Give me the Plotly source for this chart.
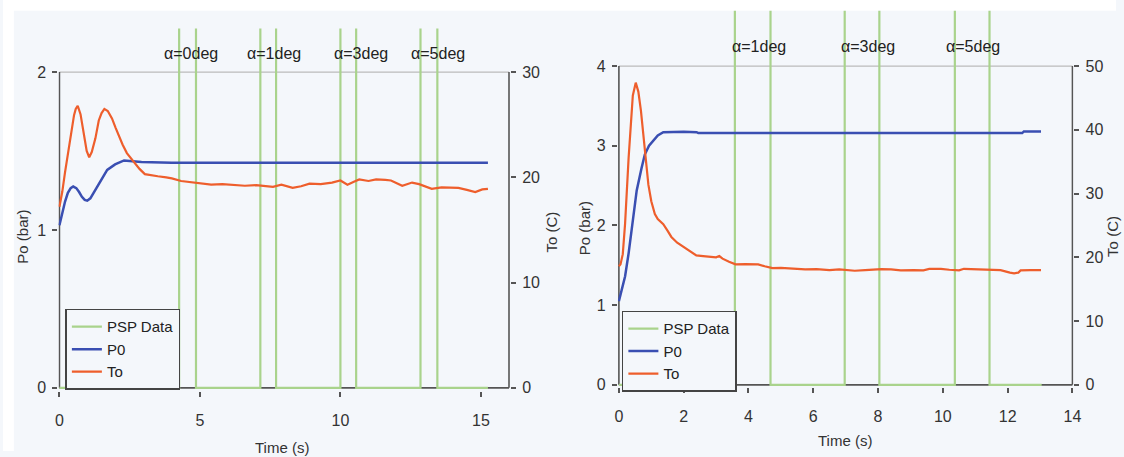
import plotly.graph_objects as go

W, H = 1124, 457
BG = "#F4F7FB"
GREEN = "#A9D38C"
BLUE = "#3A4FB2"
ORANGE = "#EE5E2C"
AXC = "#555555"
FONT = "Liberation Sans, Arial, sans-serif"

# ---------------- Left chart (run A) ----------------
psp_a_t = [0, 4.26, 4.86, 7.15, 7.71, 10.0, 10.56, 12.85, 13.45, 15.25]
psp_a_v = [0, 3, 0, 3, 0, 3, 0, 3, 0, 0]

p0_a_t = [0.0, 0.1, 0.2, 0.3, 0.4, 0.49, 0.6, 0.7, 0.8, 0.9, 0.99, 1.1, 1.2, 1.35, 1.51,
          1.7, 1.98, 2.15, 2.3, 2.6, 2.92, 4.0, 6.0, 8.0, 10.0, 12.0, 14.0, 15.25]
p0_a_v = [1.03, 1.11, 1.18, 1.235, 1.265, 1.275, 1.265, 1.24, 1.21, 1.19, 1.185, 1.20, 1.23, 1.28, 1.33,
          1.38, 1.415, 1.43, 1.44, 1.435, 1.43, 1.425, 1.425, 1.425, 1.425, 1.425, 1.425, 1.425]

to_a_t = [0.0, 0.1, 0.2, 0.34, 0.45, 0.52, 0.58, 0.65, 0.75, 0.87, 0.97, 1.06, 1.15, 1.28,
          1.4, 1.5, 1.6, 1.72, 1.87, 2.0, 2.1, 2.25, 2.4, 2.63, 2.85, 3.04, 3.3, 3.5, 3.8,
          4.0, 4.33, 4.6, 5.03, 5.4, 5.8, 6.2, 6.6, 7.0, 7.3, 7.6, 7.9, 8.3, 8.6, 8.9,
          9.3, 9.7, 10.0, 10.25, 10.5, 10.67, 11.0, 11.27, 11.6, 11.8, 12.2, 12.55, 12.8,
          13.25, 13.6, 14.0, 14.2, 14.5, 14.8, 15.05, 15.25]
to_a_v = [17.2, 18.6, 20.5, 22.8, 25.0, 25.9, 26.5, 26.8, 26.0, 24.3, 22.5, 21.9, 22.4, 23.7,
          25.4, 26.1, 26.5, 26.3, 25.6, 24.7, 24.0, 23.1, 22.3, 21.5, 20.8, 20.3, 20.15, 20.1, 20.0,
          19.9, 19.65, 19.55, 19.4, 19.3, 19.35, 19.3, 19.2, 19.25, 19.2, 19.1, 19.3, 19.0, 19.15, 19.4,
          19.35, 19.5, 19.7, 19.3, 19.6, 19.8, 19.65, 19.8, 19.75, 19.7, 19.2, 19.5, 19.35,
          18.9, 19.05, 19.0, 19.0, 18.8, 18.6, 18.85, 18.9]

alpha_a_text = ["α=0deg", "α=1deg", "α=3deg", "α=5deg"]
alpha_a_x = [4.69, 7.65, 10.73, 13.49]

# ---------------- Right chart (run B) ----------------
psp_b_t = [0, 3.58, 4.68, 6.97, 8.04, 10.37, 11.44, 13.05]
psp_b_v = [0, 6, 0, 6, 0, 6, 0, 0]

p0_b_t = [0.0, 0.1, 0.19, 0.3, 0.4, 0.55, 0.7, 0.8, 0.93, 1.06, 1.2, 1.37, 1.6, 2.0, 2.4,
          2.45, 4.0, 6.0, 8.0, 10.0, 12.45, 12.5, 13.03]
p0_b_v = [1.05, 1.2, 1.36, 1.65, 1.97, 2.44, 2.72, 2.89, 3.0, 3.07, 3.13, 3.17, 3.175, 3.175, 3.17,
          3.16, 3.16, 3.16, 3.16, 3.16, 3.16, 3.18, 3.18]

to_b_t = [0.0, 0.05, 0.12, 0.19, 0.3, 0.43, 0.52, 0.6, 0.68, 0.76, 0.84, 0.91, 1.0, 1.11,
          1.2, 1.37, 1.5, 1.62, 1.8, 1.98, 2.2, 2.39, 2.6, 2.8, 3.0, 3.1, 3.2, 3.4, 3.6,
          3.9, 4.3, 4.5, 4.74, 5.0, 5.4, 5.75, 6.1, 6.5, 6.8, 7.1, 7.28, 7.6, 7.89, 8.1,
          8.4, 8.7, 9.1, 9.4, 9.58, 9.94, 10.2, 10.5, 10.65, 10.86, 11.1, 11.37, 11.78,
          12.07, 12.2, 12.33, 12.4, 12.7, 13.03]
to_b_v = [18.6, 18.9, 20.5, 25.2, 35.6, 45.4, 47.4, 46.0, 43.0, 39.2, 34.8, 31.4, 28.8, 26.8,
          26.0, 25.2, 24.2, 23.2, 22.3, 21.7, 20.9, 20.3, 20.2, 20.05, 20.0, 20.2, 19.8, 19.3, 18.9,
          18.95, 18.9, 18.6, 18.3, 18.35, 18.2, 18.1, 18.15, 18.0, 18.1, 18.0, 17.9, 18.0, 18.1, 18.15,
          18.1, 17.95, 18.0, 17.95, 18.2, 18.2, 18.05, 17.95, 18.2, 18.15, 18.05, 18.0, 18.0,
          17.6, 17.5, 17.6, 17.95, 18.0, 18.0]

alpha_b_text = ["α=1deg", "α=3deg", "α=5deg"]
alpha_b_x = [4.31, 7.69, 10.93]


def px(p):
    return p / W


def py(p):
    return 1 - p / H


fig = go.Figure()

# left traces
fig.add_trace(go.Scatter(x=psp_a_t, y=psp_a_v, mode="lines", line_shape="hv", name="PSP Data",
                         line=dict(color=GREEN, width=2.2), xaxis="x", yaxis="y", legend="legend"))
fig.add_trace(go.Scatter(x=p0_a_t, y=p0_a_v, mode="lines", name="P0",
                         line=dict(color=BLUE, width=2.5), xaxis="x", yaxis="y", legend="legend"))
fig.add_trace(go.Scatter(x=to_a_t, y=to_a_v, mode="lines", name="To",
                         line=dict(color=ORANGE, width=2.2), xaxis="x", yaxis="y2", legend="legend"))

# right traces
fig.add_trace(go.Scatter(x=psp_b_t, y=psp_b_v, mode="lines", line_shape="hv", name="PSP Data",
                         line=dict(color=GREEN, width=2.2), xaxis="x2", yaxis="y3", legend="legend2"))
fig.add_trace(go.Scatter(x=p0_b_t, y=p0_b_v, mode="lines", name="P0",
                         line=dict(color=BLUE, width=2.5), xaxis="x2", yaxis="y3", legend="legend2"))
fig.add_trace(go.Scatter(x=to_b_t, y=to_b_v, mode="lines", name="To",
                         line=dict(color=ORANGE, width=2.2), xaxis="x2", yaxis="y4", legend="legend2"))

tickcommon = dict(ticks="outside", ticklen=5, tickwidth=1.5, tickcolor=AXC, showline=False,
                  showgrid=False, zeroline=False, tickfont=dict(size=16, color="#333333", family=FONT))

A_TOP = 2.275
A_BOT = -0.02
B_TOP = 4.693
B_BOT = -0.03

fig.update_layout(
    width=W, height=H, margin=dict(l=0, r=0, t=0, b=0),
    paper_bgcolor=BG, plot_bgcolor="rgba(0,0,0,0)",
    font=dict(family=FONT, size=15, color="#333333"),
    xaxis=dict(domain=[px(56), px(512)], range=[-0.035, 16.035], tickvals=[0, 5, 10, 15],
               anchor="y", ticklabelstandoff=10, **tickcommon),
    yaxis=dict(domain=[py(396.2), py(29)], range=[A_BOT, A_TOP], tickvals=[0, 1, 2],
               anchor="x", ticklabelstandoff=3, **tickcommon),
    yaxis2=dict(overlaying="y", side="right", anchor="x", range=[A_BOT * 15, A_TOP * 15],
                tickvals=[0, 10, 20, 30], ticklabelstandoff=3, **tickcommon),
    xaxis2=dict(domain=[px(621), px(1081)], range=[-0.03, 14.03], tickvals=[0, 2, 4, 6, 8, 10, 12, 14],
                anchor="y3", ticklabelstandoff=10, **tickcommon),
    yaxis3=dict(domain=[py(392.4), py(11)], range=[B_BOT, B_TOP], tickvals=[0, 1, 2, 3, 4],
                anchor="x2", ticklabelstandoff=3, **tickcommon),
    yaxis4=dict(overlaying="y3", side="right", anchor="x2", range=[B_BOT * 12.5, B_TOP * 12.5],
                tickvals=[0, 10, 20, 30, 40, 50], ticklabelstandoff=3, **tickcommon),
    legend=dict(x=px(63), y=py(313), xanchor="left", yanchor="top", bgcolor=BG,
                bordercolor="#444444", borderwidth=1.5, font=dict(size=15, color="#222222"),
                itemwidth=30, tracegroupgap=0),
    legend2=dict(x=px(625), y=py(315), xanchor="left", yanchor="top", bgcolor=BG,
                 bordercolor="#444444", borderwidth=1.5, font=dict(size=15, color="#222222"),
                 itemwidth=30, tracegroupgap=0),
    showlegend=True,
)

shapes = [
    # white outer margins
    dict(type="rect", xref="paper", yref="paper", x0=0, x1=1, y0=py(11), y1=1,
         fillcolor="white", line=dict(width=0), layer="below"),
    dict(type="rect", xref="paper", yref="paper", x0=0, x1=px(11), y0=0, y1=1,
         fillcolor="white", line=dict(width=0), layer="below"),
]


def frame(xr, yr, xmax, ymax):
    return [
        dict(type="line", xref=xr, yref=yr, x0=0, x1=xmax, y0=ymax, y1=ymax,
             line=dict(color="#BBBBBB", width=1.2), layer="below"),
        dict(type="line", xref=xr, yref=yr, x0=0, x1=xmax, y0=0, y1=0,
             line=dict(color=AXC, width=1.6), layer="below"),
        dict(type="line", xref=xr, yref=yr, x0=0, x1=0, y0=0, y1=ymax,
             line=dict(color=AXC, width=1.6), layer="below"),
        dict(type="line", xref=xr, yref=yr, x0=xmax, x1=xmax, y0=0, y1=ymax,
             line=dict(color=AXC, width=1.6), layer="below"),
    ]


shapes += frame("x", "y", 16, 2)
shapes += frame("x2", "y3", 14, 4)
fig.update_layout(shapes=shapes)

ann = []
for t, xv in zip(alpha_a_text, alpha_a_x):
    ann.append(dict(text=t, x=xv, y=2.12, xref="x", yref="y", showarrow=False,
                    font=dict(size=16, color="#222222")))
for t, xv in zip(alpha_b_text, alpha_b_x):
    ann.append(dict(text=t, x=xv, y=4.24, xref="x2", yref="y3", showarrow=False,
                    font=dict(size=16, color="#222222")))

titles = [
    ("Po (bar)", 20, 240, -90),
    ("To (C)", 554, 235, -90),
    ("Time (s)", 282, 453, 0),
    ("Po (bar)", 588, 231, -90),
    ("To (C)", 1121, 240, -90),
    ("Time (s)", 850, 446, 0),
]
for t, x, y, a in titles:
    ann.append(dict(text=t, x=px(x), y=py(y), xref="paper", yref="paper", showarrow=False,
                    textangle=a, xanchor="center", yanchor="middle",
                    font=dict(size=15, color="#333333")))
fig.update_layout(annotations=ann)

fig.write_html("out.html")
